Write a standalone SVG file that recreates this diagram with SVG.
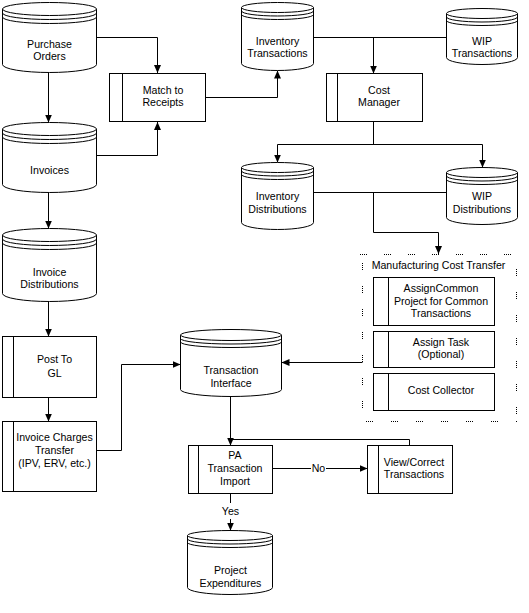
<svg xmlns="http://www.w3.org/2000/svg" width="529" height="613" viewBox="0 0 529 613">
<style>
  .s{fill:#fff;stroke:#000;stroke-width:1}
  .a{fill:none;stroke:#000;stroke-width:1}
  .c{fill:none;stroke:#000;stroke-width:1}
  .d{fill:none;stroke:#000;stroke-width:1}
  text{font-family:"Liberation Sans",Arial,sans-serif;font-size:10.6px;fill:#000;text-anchor:middle}
</style>
<defs>
  <marker id="ar" viewBox="0 0 8 7" refX="8" refY="3.5" markerWidth="8" markerHeight="7" orient="auto" markerUnits="userSpaceOnUse">
    <path d="M0,0 L8,3.5 L0,7 Z" fill="#000"/>
  </marker>
</defs>
<rect width="529" height="613" fill="#fff"/>

<g id="connectors">
  <path class="c" d="M96.5,37.5 H157.5 V73" marker-end="url(#ar)"/>
  <path class="c" d="M96.5,155.5 H157.5 V122" marker-end="url(#ar)"/>
  <path class="c" d="M48.5,72.5 V122.5" marker-end="url(#ar)"/>
  <path class="c" d="M205.5,97.5 H277.5 V70.5" marker-end="url(#ar)"/>
  <path class="c" d="M313.5,37.5 H446.5"/>
  <path class="c" d="M373.5,37.5 V73.5" marker-end="url(#ar)"/>
  <path class="c" d="M373.5,121.5 V144.5 M277.5,144.5 H482.5"/>
  <path class="c" d="M277.5,144.5 V162.5" marker-end="url(#ar)"/>
  <path class="c" d="M482.5,144.5 V167.5" marker-end="url(#ar)"/>
  <path class="c" d="M313.5,192.5 H446.5"/>
  <path class="c" d="M373.5,192.5 V232.5 H438.5 V254" marker-end="url(#ar)"/>
  <path class="c" d="M48.5,192.5 V228.5" marker-end="url(#ar)"/>
  <path class="c" d="M48.5,301.5 V336.5" marker-end="url(#ar)"/>
  <path class="c" d="M48.5,397.5 V421.5" marker-end="url(#ar)"/>
  <path class="c" d="M96.5,450.5 H121.5 V364.5 H180.5" marker-end="url(#ar)"/>
  <path class="c" d="M362.5,362.5 H281.5" marker-end="url(#ar)"/>
  <path class="c" d="M230.5,396.5 V445.5" marker-end="url(#ar)"/>
  <path class="c" d="M409.5,445.5 V439.5 H230.5"/>
  <path class="c" d="M272.5,468.5 H311"/>
  <path class="c" d="M326,468.5 H367.5" marker-end="url(#ar)"/>
  <text x="318.5" y="472">No</text>
  <path class="c" d="M230.5,493.5 V503"/>
  <path class="c" d="M230.5,519 V530.5" marker-end="url(#ar)"/>
  <text x="230.5" y="514.5">Yes</text>
</g>

<g id="purchase-orders">
  <path class="s" d="M2.5,9 V64.5 A47,8 0 0 0 96.5,64.5 V9"/>
  <ellipse class="s" cx="49.5" cy="9" rx="47" ry="6.5"/>
  <path class="a" d="M2.5,13 A47,6.5 0 0 0 96.5,13 M2.5,17 A47,6.5 0 0 0 96.5,17"/>
  <text x="49.5" y="47.5">Purchase</text>
  <text x="49.5" y="60">Orders</text>
</g>

<g id="invoices">
  <path class="s" d="M2.5,129 V184.5 A47,8 0 0 0 96.5,184.5 V129"/>
  <ellipse class="s" cx="49.5" cy="129" rx="47" ry="6.5"/>
  <path class="a" d="M2.5,133 A47,6.5 0 0 0 96.5,133 M2.5,137 A47,6.5 0 0 0 96.5,137"/>
  <text x="49.5" y="174">Invoices</text>
</g>

<g id="invoice-distributions">
  <path class="s" d="M2.5,235 V293.5 A47,8 0 0 0 96.5,293.5 V235"/>
  <ellipse class="s" cx="49.5" cy="235" rx="47" ry="6.5"/>
  <path class="a" d="M2.5,239 A47,6.5 0 0 0 96.5,239 M2.5,243 A47,6.5 0 0 0 96.5,243"/>
  <text x="49.5" y="275.5">Invoice</text>
  <text x="49.5" y="288">Distributions</text>
</g>

<g id="inventory-transactions">
  <path class="s" d="M241.5,7.5 V63.5 A36,7 0 0 0 313.5,63.5 V7.5"/>
  <ellipse class="s" cx="277.5" cy="7.5" rx="36" ry="5"/>
  <path class="a" d="M241.5,11 A36,5 0 0 0 313.5,11 M241.5,14.5 A36,5 0 0 0 313.5,14.5"/>
  <text x="277.5" y="44.5">Inventory</text>
  <text x="277.5" y="57">Transactions</text>
</g>

<g id="wip-transactions">
  <path class="s" d="M446.5,13.5 V57.5 A35.5,7 0 0 0 517.5,57.5 V13.5"/>
  <ellipse class="s" cx="482" cy="13.5" rx="35.5" ry="5"/>
  <path class="a" d="M446.5,17 A35.5,5 0 0 0 517.5,17 M446.5,20.5 A35.5,5 0 0 0 517.5,20.5"/>
  <text x="482" y="44.5">WIP</text>
  <text x="482" y="57">Transactions</text>
</g>

<g id="inventory-distributions">
  <path class="s" d="M241.5,167.5 V222.5 A36,7 0 0 0 313.5,222.5 V167.5"/>
  <ellipse class="s" cx="277.5" cy="167.5" rx="36" ry="5"/>
  <path class="a" d="M241.5,171 A36,5 0 0 0 313.5,171 M241.5,174.5 A36,5 0 0 0 313.5,174.5"/>
  <text x="277.5" y="200">Inventory</text>
  <text x="277.5" y="213">Distributions</text>
</g>

<g id="wip-distributions">
  <path class="s" d="M446.5,172.5 V217.5 A35.5,7 0 0 0 517.5,217.5 V172.5"/>
  <ellipse class="s" cx="482" cy="172.5" rx="35.5" ry="5"/>
  <path class="a" d="M446.5,176 A35.5,5 0 0 0 517.5,176 M446.5,179.5 A35.5,5 0 0 0 517.5,179.5"/>
  <text x="482" y="200">WIP</text>
  <text x="482" y="213">Distributions</text>
</g>

<g id="transaction-interface">
  <path class="s" d="M180.5,335 V389.5 A50.5,7 0 0 0 281.5,389.5 V335"/>
  <ellipse class="s" cx="231" cy="335" rx="50.5" ry="5.5"/>
  <path class="a" d="M180.5,338.5 A50.5,5.5 0 0 0 281.5,338.5 M180.5,342 A50.5,5.5 0 0 0 281.5,342"/>
  <text x="231" y="374">Transaction</text>
  <text x="231" y="386.5">Interface</text>
</g>

<g id="project-expenditures">
  <path class="s" d="M187.5,535.5 V587.5 A42.5,7 0 0 0 272.5,587.5 V535.5"/>
  <ellipse class="s" cx="230" cy="535.5" rx="42.5" ry="5"/>
  <path class="a" d="M187.5,539 A42.5,5 0 0 0 272.5,539 M187.5,542.5 A42.5,5 0 0 0 272.5,542.5"/>
  <text x="230.5" y="574">Project</text>
  <text x="230.5" y="586.5">Expenditures</text>
</g>

<g id="match-to-receipts">
  <rect class="s" x="109.5" y="73.5" width="96" height="48"/>
  <path class="a" d="M122.5,73.5 V121.5"/>
  <text x="163" y="93.5">Match to</text>
  <text x="163" y="106">Receipts</text>
</g>

<g id="cost-manager">
  <rect class="s" x="326.5" y="73.5" width="96" height="48"/>
  <path class="a" d="M337.5,73.5 V121.5"/>
  <text x="379" y="93.5">Cost</text>
  <text x="379" y="106">Manager</text>
</g>

<g id="manufacturing-cost-transfer">
  <path class="d" d="M360,254.5 H517" stroke-dasharray="1 1 1 1 1 1 1 17"/>
  <path class="d" d="M366,421.5 H517" stroke-dasharray="1 1 1 1 1 1 1 18"/>
  <path class="d" d="M362.5,263 V416" stroke-dasharray="1 1 1 1 1 1 1 16"/>
  <path class="d" d="M516.5,269 V416" stroke-dasharray="1 1 1 1 1 1 1 16"/>
  <text x="438.5" y="269">Manufacturing Cost Transfer</text>
</g>

<g id="assign-common-project">
  <rect class="s" x="373.5" y="277.5" width="121" height="48"/>
  <path class="a" d="M388.5,277.5 V325.5"/>
  <text x="441" y="291.5">AssignCommon</text>
  <text x="441" y="304.5">Project for Common</text>
  <text x="441" y="316.5">Transactions</text>
</g>

<g id="assign-task">
  <rect class="s" x="373.5" y="331.5" width="121" height="36"/>
  <path class="a" d="M388.5,331.5 V367.5"/>
  <text x="441" y="345.5">Assign Task</text>
  <text x="441" y="358">(Optional)</text>
</g>

<g id="cost-collector">
  <rect class="s" x="373.5" y="373.5" width="121" height="37"/>
  <path class="a" d="M388.5,373.5 V410.5"/>
  <text x="441" y="394">Cost Collector</text>
</g>

<g id="post-to-gl">
  <rect class="s" x="2.5" y="336.5" width="94" height="61"/>
  <path class="a" d="M13.5,336.5 V397.5"/>
  <text x="54.5" y="363">Post To</text>
  <text x="54.5" y="377">GL</text>
</g>

<g id="invoice-charges-transfer">
  <rect class="s" x="2.5" y="421.5" width="94" height="70"/>
  <path class="a" d="M13.5,421.5 V491.5"/>
  <text x="54.5" y="441">Invoice Charges</text>
  <text x="54.5" y="454">Transfer</text>
  <text x="54.5" y="466.5">(IPV, ERV, etc.)</text>
</g>

<g id="pa-transaction-import">
  <rect class="s" x="188.5" y="445.5" width="84" height="48"/>
  <path class="a" d="M198.5,445.5 V493.5"/>
  <text x="235" y="459">PA</text>
  <text x="235" y="471.5">Transaction</text>
  <text x="235" y="485">Import</text>
</g>

<g id="view-correct-transactions">
  <rect class="s" x="367.5" y="445.5" width="85" height="48"/>
  <path class="a" d="M378.5,445.5 V493.5"/>
  <text x="414" y="465.5">View/Correct</text>
  <text x="414" y="477.5">Transactions</text>
</g>
</svg>
